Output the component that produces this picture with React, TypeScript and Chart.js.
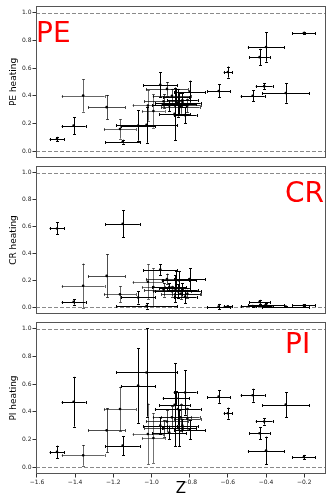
import React, { useEffect, useRef } from "react";
import { Chart, registerables } from "chart.js";

Chart.register(...registerables);

// Shared metallicity (Z) per object and its uncertainty
const zValues = [-1.495, -1.408, -1.358, -1.235, -1.165, -1.151, -1.07, -1.026, -1.019, -0.99, -0.954, -0.937, -0.919, -0.907, -0.893, -0.879, -0.871, -0.862, -0.857, -0.848, -0.838, -0.824, -0.812, -0.8, -0.648, -0.6, -0.47, -0.434, -0.41, -0.4, -0.297, -0.202];
const zErrors = [0.039, 0.063, 0.112, 0.097, 0.084, 0.09, 0.09, 0.16, 0.08, 0.06, 0.09, 0.1, 0.11, 0.09, 0.1, 0.08, 0.07, 0.12, 0.09, 0.1, 0.08, 0.06, 0.07, 0.08, 0.06, 0.022, 0.063, 0.054, 0.044, 0.095, 0.124, 0.061];

const peValues = [0.087, 0.184, 0.402, 0.318, 0.16, 0.068, 0.185, 0.19, 0.33, 0.29, 0.48, 0.36, 0.45, 0.33, 0.4, 0.27, 0.39, 0.35, 0.34, 0.32, 0.37, 0.26, 0.33, 0.43, 0.435, 0.572, 0.4, 0.68, 0.47, 0.753, 0.42, 0.854];
const peErrors = [0.016, 0.062, 0.117, 0.088, 0.07, 0.014, 0.11, 0.13, 0.11, 0.12, 0.09, 0.05, 0.05, 0.04, 0.05, 0.19, 0.06, 0.1, 0.08, 0.05, 0.05, 0.06, 0.05, 0.08, 0.047, 0.04, 0.04, 0.06, 0.02, 0.106, 0.07, 0.01];

const crValues = [0.586, 0.04, 0.16, 0.233, 0.096, 0.62, 0.073, 0.01, 0.19, 0.15, 0.28, 0.13, 0.21, 0.15, 0.12, 0.14, 0.2, 0.12, 0.2, 0.1, 0.13, 0.08, 0.1, 0.21, 0.005, 0.007, 0.01, 0.04, 0.01, 0.02, 0.005, 0.014];
const crErrors = [0.045, 0.02, 0.165, 0.16, 0.06, 0.1, 0.045, 0.02, 0.13, 0.14, 0.04, 0.05, 0.04, 0.03, 0.04, 0.1, 0.07, 0.05, 0.07, 0.04, 0.05, 0.05, 0.03, 0.08, 0.02, 0.005, 0.005, 0.015, 0.01, 0.01, 0.005, 0.008];

const piValues = [0.11, 0.473, 0.085, 0.266, 0.42, 0.155, 0.59, 0.685, 0.24, 0.21, 0.3, 0.28, 0.33, 0.25, 0.36, 0.45, 0.5, 0.42, 0.28, 0.36, 0.3, 0.54, 0.35, 0.27, 0.51, 0.39, 0.52, 0.245, 0.33, 0.12, 0.452, 0.073];
const piErrors = [0.045, 0.18, 0.075, 0.16, 0.16, 0.07, 0.27, 0.32, 0.22, 0.18, 0.06, 0.06, 0.08, 0.05, 0.08, 0.3, 0.05, 0.12, 0.13, 0.1, 0.05, 0.16, 0.08, 0.07, 0.045, 0.04, 0.047, 0.045, 0.022, 0.1, 0.09, 0.015];

const barAlpha = [1, 1, 0.6, 0.7, 0.6, 1, 1, 1, 0.55, 0.55, 1, 0.7, 0.7, 1, 0.7, 1, 1, 1, 1, 0.7, 1, 1, 0.7, 1, 1, 1, 1, 1, 1, 1, 1, 1];

const yTicks = [0, 0.2, 0.4, 0.6, 0.8, 1.0];
const xTicks = [-1.6, -1.4, -1.2, -1.0, -0.8, -0.6, -0.4, -0.2];
const xTitle = "Z";

const FONT = "'DejaVu Sans', sans-serif";

type PanelProps = {
  values: number[];
  errors: number[];
  label: string;
  labelX: number;
  labelBaseline: number;
  yTitle: string;
  showX: boolean;
  top: number;
  height: number;
  padTop: number;
};

function Panel(p: PanelProps) {
  const ref = useRef<HTMLCanvasElement | null>(null);
  useEffect(() => {
    if (!ref.current) return;
    const decor = {
      id: "decor",
      beforeDatasetsDraw(chart: any) {
        const { ctx, chartArea: a } = chart;
        const xs = chart.scales.x;
        const ys = chart.scales.y;
        ctx.save();
        ctx.beginPath();
        ctx.rect(a.left, a.top, a.right - a.left, a.bottom - a.top);
        ctx.clip();
        ctx.strokeStyle = "#8a8a8a";
        ctx.lineWidth = 1;
        ctx.setLineDash([4, 2]);
        [0, 1].forEach((v) => {
          const y = Math.round(ys.getPixelForValue(v)) + 0.5;
          ctx.beginPath();
          ctx.moveTo(a.left, y);
          ctx.lineTo(a.right, y);
          ctx.stroke();
        });
        ctx.setLineDash([]);
        const cap = 1.5;
        for (let i = 0; i < zValues.length; i++) {
          const px = Math.round(xs.getPixelForValue(zValues[i])) + 0.5;
          const py = Math.round(ys.getPixelForValue(p.values[i])) + 0.5;
          const x0 = xs.getPixelForValue(zValues[i] - zErrors[i]);
          const x1 = xs.getPixelForValue(zValues[i] + zErrors[i]);
          const y0 = ys.getPixelForValue(p.values[i] - p.errors[i]);
          const y1 = ys.getPixelForValue(p.values[i] + p.errors[i]);
          ctx.strokeStyle = `rgba(0,0,0,${barAlpha[i]})`;
          ctx.lineWidth = 1;
          ctx.beginPath();
          ctx.moveTo(x0, py);
          ctx.lineTo(x1, py);
          ctx.moveTo(Math.round(x0) + 0.5, py - cap);
          ctx.lineTo(Math.round(x0) + 0.5, py + cap);
          ctx.moveTo(Math.round(x1) + 0.5, py - cap);
          ctx.lineTo(Math.round(x1) + 0.5, py + cap);
          ctx.moveTo(px, y0);
          ctx.lineTo(px, y1);
          ctx.moveTo(px - cap, Math.round(y0) + 0.5);
          ctx.lineTo(px + cap, Math.round(y0) + 0.5);
          ctx.moveTo(px - cap, Math.round(y1) + 0.5);
          ctx.lineTo(px + cap, Math.round(y1) + 0.5);
          ctx.stroke();
        }
        ctx.restore();
      },
      afterDraw(chart: any) {
        const { ctx, chartArea: a } = chart;
        ctx.save();
        ctx.strokeStyle = "#555";
        ctx.lineWidth = 1;
        ctx.strokeRect(a.left + 0.5, a.top + 0.5, a.right - a.left - 1, a.bottom - a.top - 1);
        ctx.fillStyle = "#ff0000";
        ctx.font = `28px ${FONT}`;
        ctx.textAlign = "left";
        ctx.textBaseline = "alphabetic";
        ctx.fillText(p.label, p.labelX, p.labelBaseline);
        ctx.restore();
      },
    };

    const chart = new Chart(ref.current, {
      type: "scatter",
      data: {
        datasets: [
          {
            data: zValues.map((z, i) => ({ x: z, y: p.values[i] })),
            pointRadius: 1.3,
            pointBackgroundColor: "#000",
            pointBorderWidth: 0,
            showLine: false,
          },
        ],
      },
      options: {
        animation: false,
        responsive: false,
        devicePixelRatio: 1,
        layout: { padding: { top: p.padTop, right: 1, left: 0, bottom: 0 } },
        plugins: { legend: { display: false }, tooltip: { enabled: false } },
        scales: {
          x: {
            type: "linear",
            min: -1.605,
            max: -0.086,
            display: p.showX,
            afterBuildTicks: (s: any) => {
              s.ticks = xTicks.map((v) => ({ value: v }));
            },
            afterFit: (s: any) => {
              s.height = p.showX ? 24 : 0;
              s.paddingLeft = 0;
              s.paddingRight = 0;
              s.paddingTop = 0;
              s.paddingBottom = 0;
            },
            grid: { display: true, drawOnChartArea: false, drawTicks: true, tickLength: 3.5, tickColor: "#333", color: "#333" },
            border: { display: false },
            ticks: {
              font: { size: 6, family: FONT },
              color: "#222",
              padding: 1.5,
              maxRotation: 0,
              autoSkip: false,
              callback: (v: any) => Number(v).toFixed(1).replace("-", "\u2212"),
            },
            title: { display: true, text: xTitle, font: { size: 15, family: FONT }, color: "#000", padding: 0 },
          },
          y: {
            type: "linear",
            min: -0.05,
            max: 1.05,
            afterBuildTicks: (s: any) => {
              s.ticks = yTicks.map((v) => ({ value: v }));
            },
            afterFit: (s: any) => {
              s.width = 36;
              s.paddingLeft = 0;
              s.paddingRight = 0;
              s.paddingTop = 0;
              s.paddingBottom = 0;
            },
            grid: { display: true, drawOnChartArea: false, drawTicks: true, tickLength: 3.5, tickColor: "#333", color: "#333" },
            border: { display: false },
            ticks: {
              font: { size: 6, family: FONT },
              color: "#222",
              padding: 1,
              autoSkip: false,
              callback: (v: any) => Number(v).toFixed(1),
            },
            title: { display: true, text: p.yTitle, font: { size: 9, family: FONT }, color: "#000", padding: { top: 8, bottom: 0 } },
          },
        },
      },
      plugins: [decor],
    });
    return () => chart.destroy();
  }, []);
  return (
    <canvas
      ref={ref}
      width={330}
      height={p.height}
      style={{ position: "absolute", left: 0, top: p.top, width: 330, height: p.height }}
    />
  );
}

export default function App() {
  return (
    <div style={{ position: "absolute", left: 0, top: 0, width: 330, height: 498, background: "#fff" }}>
      <Panel values={peValues} errors={peErrors} label="PE" labelX={36} labelBaseline={42} yTitle="PE heating" showX={false} top={0} height={162} padTop={6} />
      <Panel values={crValues} errors={crErrors} label="CR" labelX={285} labelBaseline={40} yTitle="CR heating" showX={false} top={162} height={156} padTop={0} />
      <Panel values={piValues} errors={piErrors} label="PI" labelX={285} labelBaseline={35} yTitle="PI heating" showX={true} top={318} height={180} padTop={0} />
    </div>
  );
}
